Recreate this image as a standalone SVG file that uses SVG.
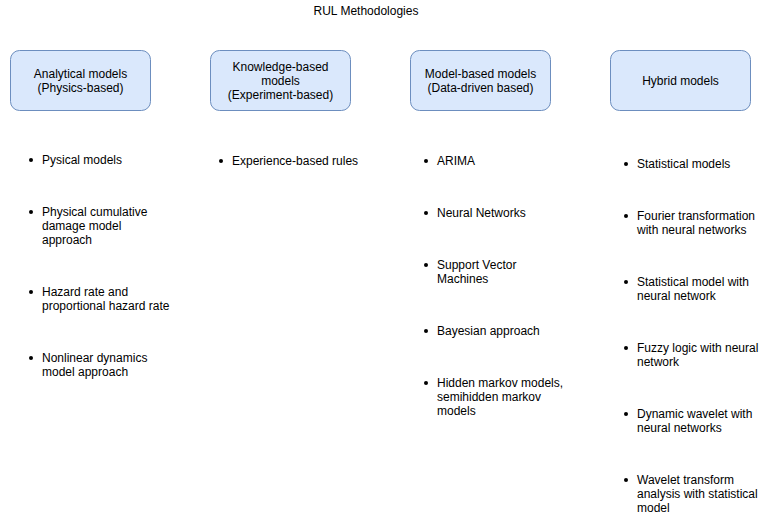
<svg xmlns="http://www.w3.org/2000/svg" width="766" height="526" viewBox="0 0 766 526">
<style>
text{font-family:"Liberation Sans",Arial,Helvetica,sans-serif;font-size:12px;fill:#000}
.c{text-anchor:middle}
.box{fill:#dae8fc;stroke:#6c8ebf;stroke-width:1}
.dot{fill:#000}
</style>
<rect width="766" height="526" fill="#fff"/>
<text class="c" x="366" y="15">RUL Methodologies</text>
<g id="connectors"></g>
<g id="analytical">
<rect class="box" x="10.5" y="50.5" width="140" height="60" rx="9"/>
<text class="c" x="80.5" y="78">Analytical models</text>
<text class="c" x="80.5" y="92">(Physics-based)</text>
</g>
<g id="knowledge">
<rect class="box" x="210.5" y="50.5" width="140" height="60" rx="9"/>
<text class="c" x="280.5" y="71">Knowledge-based</text>
<text class="c" x="280.5" y="85">models</text>
<text class="c" x="280.5" y="99">(Experiment-based)</text>
</g>
<g id="modelbased">
<rect class="box" x="410.5" y="50.5" width="140" height="60" rx="9"/>
<text class="c" x="480.5" y="78">Model-based models</text>
<text class="c" x="480.5" y="92">(Data-driven based)</text>
</g>
<g id="hybrid">
<rect class="box" x="610.5" y="50.5" width="140" height="60" rx="9"/>
<text class="c" x="680.5" y="85">Hybrid models</text>
</g>
<g id="list-analytical">
<circle class="dot" cx="31" cy="160" r="2"/><text x="42" y="164">Pysical models</text>
<circle class="dot" cx="31" cy="212" r="2"/><text x="42" y="216">Physical cumulative</text><text x="42" y="230">damage model</text><text x="42" y="244">approach</text>
<circle class="dot" cx="31" cy="292" r="2"/><text x="42" y="296">Hazard rate and</text><text x="42" y="310">proportional hazard rate</text>
<circle class="dot" cx="31" cy="358" r="2"/><text x="42" y="362">Nonlinear dynamics</text><text x="42" y="376">model approach</text>
</g>
<g id="list-knowledge">
<circle class="dot" cx="221" cy="161" r="2"/><text x="232" y="165">Experience-based rules</text>
</g>
<g id="list-modelbased">
<circle class="dot" cx="426" cy="161" r="2"/><text x="437" y="165">ARIMA</text>
<circle class="dot" cx="426" cy="213" r="2"/><text x="437" y="217">Neural Networks</text>
<circle class="dot" cx="426" cy="265" r="2"/><text x="437" y="269">Support Vector</text><text x="437" y="283">Machines</text>
<circle class="dot" cx="426" cy="331" r="2"/><text x="437" y="335">Bayesian approach</text>
<circle class="dot" cx="426" cy="383" r="2"/><text x="437" y="387">Hidden markov models,</text><text x="437" y="401">semihidden markov</text><text x="437" y="415">models</text>
</g>
<g id="list-hybrid">
<circle class="dot" cx="626" cy="164" r="2"/><text x="637" y="168">Statistical models</text>
<circle class="dot" cx="626" cy="216" r="2"/><text x="637" y="220">Fourier transformation</text><text x="637" y="234">with neural networks</text>
<circle class="dot" cx="626" cy="282" r="2"/><text x="637" y="286">Statistical model with</text><text x="637" y="300">neural network</text>
<circle class="dot" cx="626" cy="348" r="2"/><text x="637" y="352">Fuzzy logic with neural</text><text x="637" y="366">network</text>
<circle class="dot" cx="626" cy="414" r="2"/><text x="637" y="418">Dynamic wavelet with</text><text x="637" y="432">neural networks</text>
<circle class="dot" cx="626" cy="480" r="2"/><text x="637" y="484">Wavelet transform</text><text x="637" y="498">analysis with statistical</text><text x="637" y="512">model</text>
</g>
</svg>
